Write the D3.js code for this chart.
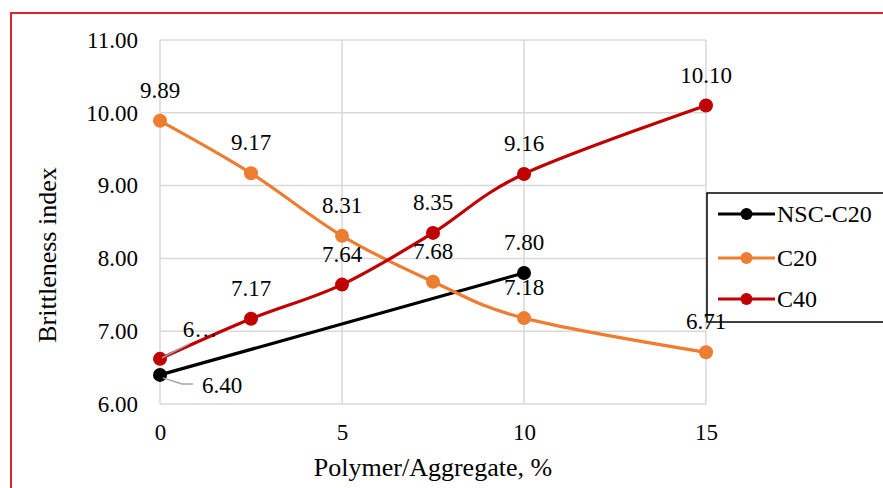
<!DOCTYPE html>
<html>
<head>
<meta charset="utf-8">
<script src="https://cdn.jsdelivr.net/npm/d3@7"></script>
<style>
  html, body { margin: 0; padding: 0; background: #fff; }
  svg { display: block; }
  svg text { font-family: "Liberation Serif", "DejaVu Serif", serif !important; fill: #000; }
</style>
</head>
<body>
<svg id="chart" width="883" height="488"></svg>
<script>
// Brittleness index vs polymer/aggregate ratio
const xTicks = [0, 5, 10, 15];
const yTicks = [6, 7, 8, 9, 10, 11];

const nscX = [0, 10];
const nscY = [6.40, 7.80];
const nscLabels = ["6.40", "7.80"];

const c20X = [0, 2.5, 5, 7.5, 10, 15];
const c20Y = [9.89, 9.17, 8.31, 7.68, 7.18, 6.71];
const c20Labels = ["9.89", "9.17", "8.31", "7.68", "7.18", "6.71"];

const c40X = [0, 2.5, 5, 7.5, 10, 15];
const c40Y = [6.62, 7.17, 7.64, 8.35, 9.16, 10.10];
const c40Labels = ["6\u2026", "7.17", "7.64", "8.35", "9.16", "10.10"];

const seriesNames = ["NSC-C20", "C20", "C40"];
const seriesColors = ["#000000", "#ed7d31", "#c00000"];

const SERIF = "'Liberation Serif', 'Times New Roman', serif";

const svg = d3.select("#chart").attr("font-family", SERIF);

// outer frame
svg.append("rect")
  .attr("x", 11).attr("y", 13)
  .attr("width", 1000).attr("height", 1000)
  .attr("fill", "none")
  .attr("stroke", "#d9262e")
  .attr("stroke-width", 2);

const x = d3.scaleLinear().domain([0, 15]).range([160, 706]);
const y = d3.scaleLinear().domain([6, 11]).range([404, 40]);

// gridlines
const grid = svg.append("g");
grid.selectAll("line.h").data(yTicks).join("line")
  .attr("x1", x(0)).attr("x2", x(15))
  .attr("y1", d => y(d)).attr("y2", d => y(d))
  .attr("stroke", "#d9d9d9").attr("stroke-width", 1.5);
grid.selectAll("line.v").data(xTicks).join("line")
  .attr("y1", y(6)).attr("y2", y(11))
  .attr("x1", d => x(d)).attr("x2", d => x(d))
  .attr("stroke", "#d9d9d9").attr("stroke-width", 1.5);

// axes (labels only)
const yAxis = svg.append("g")
  .attr("transform", `translate(${x(0)},0)`)
  .call(d3.axisLeft(y).tickValues(yTicks).tickFormat(d3.format(".2f")).tickSize(0).tickPadding(22));
yAxis.attr("font-family", SERIF).attr("font-size", 23);
yAxis.select(".domain").remove();
yAxis.selectAll("text").style("font-family", SERIF).style("font-size", "23px").attr("fill", "#000");

const xAxis = svg.append("g")
  .attr("transform", `translate(0,${y(6)})`)
  .call(d3.axisBottom(x).tickValues(xTicks).tickFormat(d3.format("d")).tickSize(0).tickPadding(20));
xAxis.attr("font-family", SERIF).attr("font-size", 23);
xAxis.select(".domain").remove();
xAxis.selectAll("text").style("font-family", SERIF).style("font-size", "23px").attr("fill", "#000");

// axis titles
svg.append("text")
  .attr("x", 433).attr("y", 476)
  .attr("text-anchor", "middle")
  .style("font-family", SERIF)
  .style("font-size", "26px")
  .text("Polymer/Aggregate, %");

svg.append("text")
  .attr("transform", "translate(56,255) rotate(-90)")
  .attr("text-anchor", "middle")
  .style("font-family", SERIF)
  .style("font-size", "26px")
  .text("Brittleness index");

// series
const series = [
  { xs: nscX, ys: nscY, labels: nscLabels, curve: d3.curveLinear },
  { xs: c20X, ys: c20Y, labels: c20Labels, curve: d3.curveCatmullRom.alpha(0) },
  { xs: c40X, ys: c40Y, labels: c40Labels, curve: d3.curveCatmullRom.alpha(0) }
];

const line = d3.line().x(d => x(d[0])).y(d => y(d[1]));

series.forEach((s, i) => {
  const pts = s.xs.map((v, j) => [v, s.ys[j]]);
  svg.append("path")
    .datum(pts)
    .attr("d", line.curve(s.curve))
    .attr("fill", "none")
    .attr("stroke", seriesColors[i])
    .attr("stroke-width", 3.2)
    .attr("stroke-linejoin", "round");
  svg.append("g").selectAll("circle").data(pts).join("circle")
    .attr("cx", d => x(d[0])).attr("cy", d => y(d[1]))
    .attr("r", 7)
    .attr("fill", seriesColors[i]);
});

// leader lines for the labels moved off their points
const leader = svg.append("g").attr("fill", "none").attr("stroke", "#a6a6a6").attr("stroke-width", 1.5);
{
  const px = x(nscX[0]), py = y(nscY[0]);
  leader.append("polyline")
    .attr("points", `${px + 3},${py + 3} ${px + 22},${py + 9} ${px + 33},${py + 9}`);
  const qx = x(c40X[0]), qy = y(c40Y[0]);
  leader.append("line")
    .attr("x1", qx + 2).attr("y1", qy - 1)
    .attr("x2", qx + 29).attr("y2", qy - 15);
}

// legend
const lg = svg.append("g");
lg.append("rect")
  .attr("x", 707).attr("y", 193)
  .attr("width", 200).attr("height", 129)
  .attr("fill", "#fff")
  .attr("stroke", "#000").attr("stroke-width", 1.5);
const rowsY = [214, 258, 299];
seriesNames.forEach((name, i) => {
  lg.append("line")
    .attr("x1", 718).attr("x2", 775)
    .attr("y1", rowsY[i]).attr("y2", rowsY[i])
    .attr("stroke", seriesColors[i]).attr("stroke-width", 3.2);
  lg.append("circle")
    .attr("cx", 746.5).attr("cy", rowsY[i]).attr("r", 6)
    .attr("fill", seriesColors[i]);
  lg.append("text")
    .attr("x", 777).attr("y", rowsY[i])
    .attr("dy", "0.35em")
    .style("font-family", SERIF)
    .style("font-size", "24px")
    .text(name);
});

// data labels
const labels = svg.append("g").attr("text-anchor", "middle");
series.forEach((s, i) => {
  s.xs.forEach((v, j) => {
    let lx = x(v), ly = y(s.ys[j]) - 31;
    if (i === 0 && j === 0) { lx = x(v) + 62; ly = y(s.ys[j]) + 10; }
    if (i === 2 && j === 0) { lx = x(v) + 40; ly = y(s.ys[j]) - 30; }
    labels.append("text")
      .attr("x", lx).attr("y", ly)
      .attr("dy", "0.35em")
      .style("font-family", SERIF)
      .style("font-size", "23px")
      .text(s.labels[j]);
  });
});
</script>
</body>
</html>
